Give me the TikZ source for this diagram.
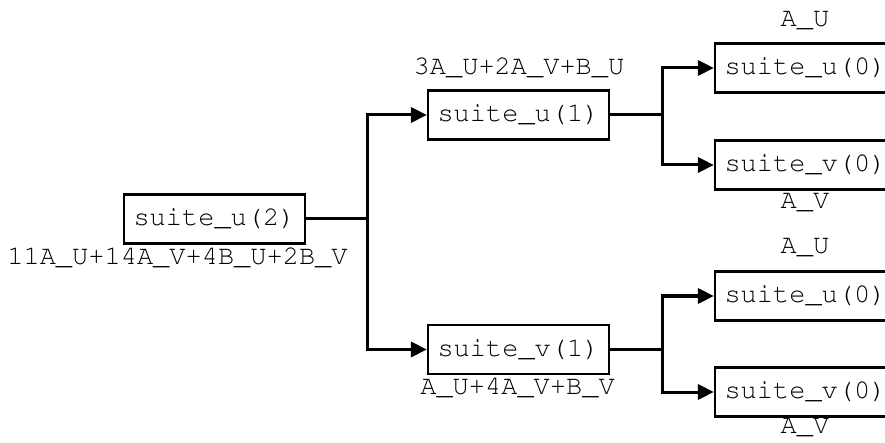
\documentclass[tikz,border=0pt]{standalone}
\usepackage[T1]{fontenc}
\usepackage{courier}
\usetikzlibrary{arrows.meta}
\tikzset{pin/.style={line width=3pt, -{Triangle[length=16pt,width=15pt]}},
  wire/.style={line width=3pt},
  blk/.style={draw, line width=2.2pt, minimum width=181pt, minimum height=49pt, inner sep=0pt},
  lbl/.style={inner sep=0pt}}

\begin{document}
\begin{tikzpicture}[x=1pt, y=-1pt, font=\ttfamily\fontsize{27}{30}\selectfont]
  \useasboundingbox (0,0) rectangle (885,443);
  % boxes
  \node[blk] (u2) at (214.5,219) {suite\_u(2)};
  \node[blk] (u1) at (518.5,115) {suite\_u(1)};
  \node[blk] (v1) at (518.5,349.5) {suite\_v(1)};
  \node[blk] (u0a) at (805.5,68) {suite\_u(0)};
  \node[blk] (v0a) at (805.5,165) {suite\_v(0)};
  \node[blk] (u0b) at (805.5,296) {suite\_u(0)};
  \node[blk] (v0b) at (805.5,392) {suite\_v(0)};
  % values
  \node[lbl] (ru2) at (177.5,258) {11A\_U+14A\_V+4B\_U+2B\_V};
  \node[lbl] (ru1) at (519,68) {3A\_U+2A\_V+B\_U};
  \node[lbl] (rv1) at (517.5,388) {A\_U+4A\_V+B\_V};
  \node[lbl] (ru0a) at (805,21) {A\_U};
  \node[lbl] (rv0a) at (805,203) {A\_V};
  \node[lbl] (ru0b) at (805,248) {A\_U};
  \node[lbl] (rv0b) at (805,428) {A\_V};
  % connectors
  \coordinate (s2) at (367,219);
  \coordinate (s1) at (662,115);
  \coordinate (t1) at (662,349.5);
  \draw[wire] (u2.east) -- (s2);
  \draw[pin] (s2) |- (u1.west);
  \draw[pin] (s2) |- (v1.west);
  \draw[wire] (u1.east) -- (s1);
  \draw[pin] (s1) |- (u0a.west);
  \draw[pin] (s1) |- (v0a.west);
  \draw[wire] (v1.east) -- (t1);
  \draw[pin] (t1) |- (u0b.west);
  \draw[pin] (t1) |- (v0b.west);
\end{tikzpicture}
\end{document}
